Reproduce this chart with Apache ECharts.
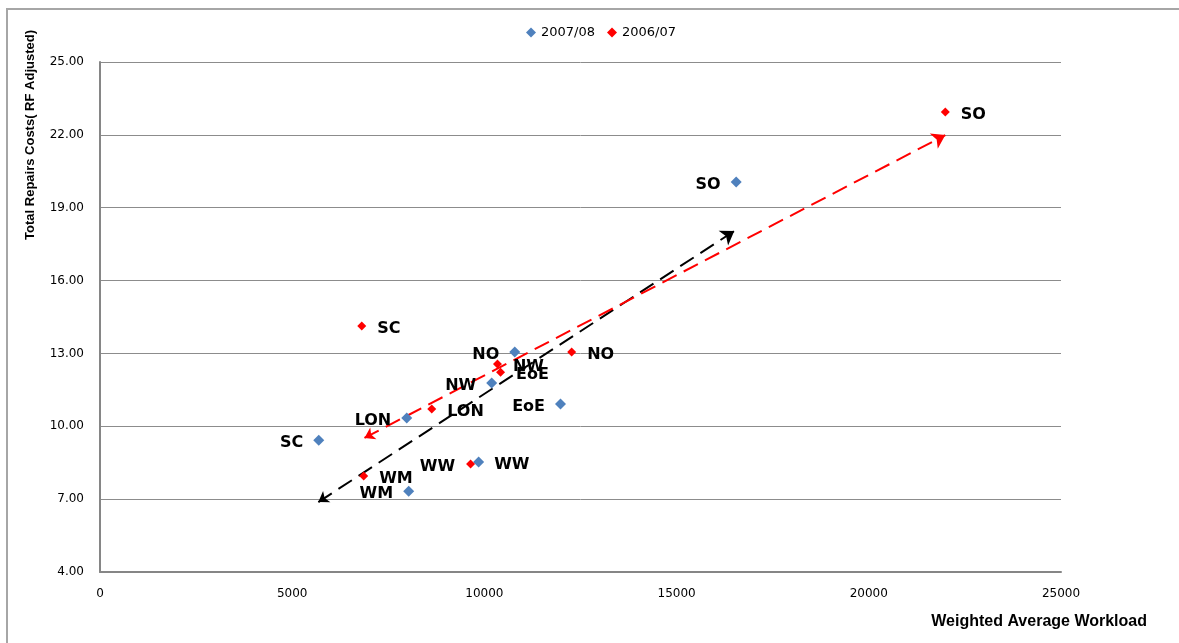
<!DOCTYPE html>
<html>
<head>
<meta charset="utf-8">
<script src="https://cdn.jsdelivr.net/npm/echarts@6/dist/echarts.min.js"></script>
<style>
  html, body { margin: 0; padding: 0; background: #fff; }
  #chart { width: 1179px; height: 643px; }
</style>
</head>
<body>
<div id="chart"></div>
<script>
// Regions shown on the chart
const regions = ['SO', 'NO', 'NW', 'EoE', 'LON', 'SC', 'WW', 'WM'];

// 2007/08: weighted average workload and total repairs costs
const workload0708 = [16550, 10790, 10190, 11980, 7980, 5690, 9850, 8030];
const costs0708    = [20.06, 13.06, 11.78, 10.92, 10.34, 9.43, 8.53, 7.33];

// 2006/07: weighted average workload and total repairs costs
const workload0607 = [21990, 12270, 10340, 10420, 8630, 6810, 9640, 6860];
const costs0607    = [22.94, 13.06, 12.56, 12.23, 10.71, 14.13, 8.45, 7.95];

// Trend arrows: [startX, startY, endX, endY]
const trend0708 = [5680, 6.88, 16500, 18.04];
const trend0607 = [6880, 9.52, 21990, 21.99];

// Axis ticks
const yTicks = [4, 7, 10, 13, 16, 19, 22, 25];
const xTicks = [0, 5000, 10000, 15000, 20000, 25000];

// Which side each region's label sits on
const side0708 = { SO: 'left', NO: 'left', NW: 'left', EoE: 'left', LON: 'left', SC: 'left', WW: 'right', WM: 'left' };
const side0607 = { SO: 'right', NO: 'right', NW: 'right', EoE: 'right', LON: 'right', SC: 'right', WW: 'left', WM: 'right' };

const BLUE = '#4F81BD';
const RED = '#FF0000';
const labelFont = {
  color: '#000', fontFamily: 'DejaVu Sans', fontWeight: 'bold', fontSize: 16,
  textBorderWidth: 0, opacity: 1, offset: [0, 3]
};

function points(xs, ys, sides) {
  return regions.map((r, i) => ({
    name: r,
    value: [xs[i], ys[i]],
    label: { position: sides[r] }
  }));
}

function arrow(t) {
  return [{ coords: [[t[0], t[1]], [t[2], t[3]]] }];
}

const chart = echarts.init(document.getElementById('chart'), null, { renderer: 'canvas' });

chart.setOption({
  animation: false,
  backgroundColor: '#fff',
  grid: { left: 100, top: 62, right: 118, bottom: 71, containLabel: false },
  legend: {
    top: 21,
    left: 521,
    itemWidth: 10,
    itemHeight: 10,
    itemGap: 12,
    textStyle: { fontFamily: 'DejaVu Sans', fontSize: 13, color: '#000' },
    data: [
      { name: '2007/08', icon: 'diamond' },
      { name: '2006/07', icon: 'diamond' }
    ]
  },
  xAxis: {
    type: 'value',
    min: xTicks[0],
    max: xTicks[xTicks.length - 1],
    interval: xTicks[1] - xTicks[0],
    axisLine: { show: true, lineStyle: { color: '#868686', width: 2 } },
    axisTick: { show: false },
    splitLine: { show: false },
    axisLabel: {
      margin: 16, fontFamily: 'DejaVu Sans', fontSize: 12, color: '#000',
      formatter: v => String(v)
    }
  },
  yAxis: {
    type: 'value',
    min: yTicks[0],
    max: yTicks[yTicks.length - 1],
    interval: yTicks[1] - yTicks[0],
    axisLine: { show: true, lineStyle: { color: '#868686', width: 2 } },
    axisTick: { show: false },
    splitLine: { show: true, lineStyle: { color: '#8c8c8c', width: 1 } },
    axisLabel: {
      margin: 16,
      fontFamily: 'DejaVu Sans',
      fontSize: 12,
      color: '#000',
      formatter: v => v.toFixed(2)
    }
  },
  graphic: [
    {
      type: 'rect',
      silent: true,
      shape: { x: 7, y: 9, width: 1300, height: 800 },
      style: { fill: null, stroke: '#a6a6a6', lineWidth: 2 }
    },
    {
      type: 'text',
      silent: true,
      x: 1147,
      y: 622,
      style: {
        text: 'Weighted Average Workload',
        fontFamily: 'Liberation Sans',
        fontWeight: 'bold',
        fontSize: 16,
        fill: '#000',
        align: 'right',
        verticalAlign: 'middle'
      }
    },
    {
      type: 'text',
      silent: true,
      x: 30,
      y: 30,
      rotation: Math.PI / 2,
      style: {
        text: 'Total Repairs Costs( RF Adjusted)',
        fontFamily: 'Liberation Sans',
        fontWeight: 'bold',
        fontSize: 13,
        fill: '#000',
        align: 'right',
        verticalAlign: 'middle'
      }
    }
  ],
  series: [
    {
      name: '2007/08',
      type: 'scatter',
      symbol: 'diamond',
      symbolSize: 11,
      itemStyle: { color: BLUE, opacity: 1 },
      label: { show: true, formatter: '{b}', distance: 10, ...labelFont },
      data: points(workload0708, costs0708, side0708),
      z: 5
    },
    {
      name: '2006/07',
      type: 'scatter',
      symbol: 'diamond',
      symbolSize: 9,
      itemStyle: { color: RED, opacity: 1 },
      label: { show: true, formatter: '{b}', distance: 11, ...labelFont },
      data: points(workload0607, costs0607, side0607),
      z: 5
    },
    {
      type: 'lines',
      coordinateSystem: 'cartesian2d',
      symbol: ['arrow', 'arrow'],
      symbolSize: [10, 13],
      silent: true,
      lineStyle: { color: '#000', width: 2, type: [16, 8], opacity: 1 },
      data: arrow(trend0708),
      z: 3
    },
    {
      type: 'lines',
      coordinateSystem: 'cartesian2d',
      symbol: ['arrow', 'arrow'],
      symbolSize: [10, 13],
      silent: true,
      lineStyle: { color: RED, width: 2, type: [16, 8], opacity: 1 },
      data: arrow(trend0607),
      z: 3
    }
  ]
});
</script>
</body>
</html>
